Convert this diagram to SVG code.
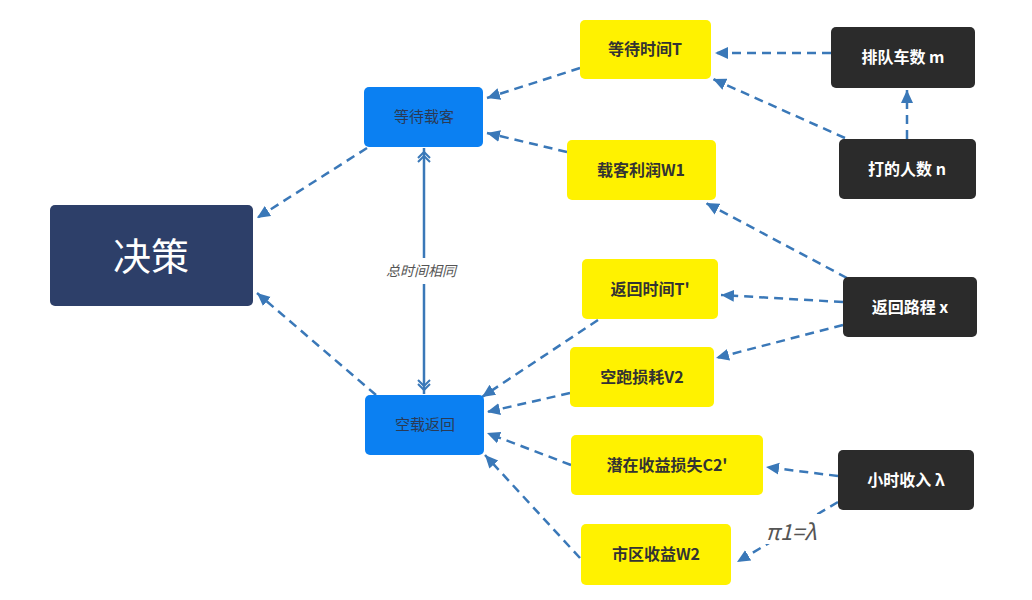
<svg xmlns="http://www.w3.org/2000/svg" width="1032" height="600" viewBox="0 0 1032 600">
<style>
.dash{fill:none;stroke:#3a78b8;stroke-width:2.5;stroke-dasharray:9 6;marker-end:url(#ah)}
.solid{fill:none;stroke:#3a78b8;stroke-width:2.5}
.y rect{fill:#fff200}
.y text{fill:#333;font-family:"Noto Sans CJK SC","Liberation Sans",sans-serif;font-size:16px;font-weight:bold;text-anchor:middle}
.b rect{fill:#0b80f2}
.b text{fill:#2a3a55;font-family:"Noto Sans CJK SC","Liberation Sans",sans-serif;font-size:15px;text-anchor:middle}
.k rect{fill:#2b2b2b}
.k text{fill:#fff;font-family:"Noto Sans CJK SC","Liberation Sans",sans-serif;font-size:16px;font-weight:bold;text-anchor:middle}
.lbl{fill:#555;font-family:"Noto Sans CJK SC","Liberation Sans",sans-serif;font-style:italic;text-anchor:middle}
</style>
<defs>
<marker id="ah" markerUnits="userSpaceOnUse" markerWidth="14" markerHeight="14" viewBox="0 0 14 14" refX="13" refY="7" orient="auto">
<path d="M0,1 L13,7 L0,13 Z" fill="#3a78b8"/>
</marker>
<marker id="dc" markerUnits="userSpaceOnUse" markerWidth="16" markerHeight="16" viewBox="0 0 16 16" refX="15" refY="8" orient="auto">
<path d="M5,2 L11,8 L5,14 M1,2 L7,8 L1,14" fill="none" stroke="#3a78b8" stroke-width="2"/>
</marker>
</defs>
<rect width="1032" height="600" fill="#fff"/>
<g id="connectors">
<line class="dash" x1="367" y1="148" x2="257" y2="218"/>
<line class="dash" x1="376" y1="395" x2="257" y2="293"/>
<line class="dash" x1="580" y1="68" x2="487" y2="98"/>
<line class="dash" x1="567" y1="152" x2="487" y2="133"/>
<line class="dash" x1="598" y1="320" x2="482" y2="397"/>
<line class="dash" x1="570" y1="393" x2="487" y2="412"/>
<line class="dash" x1="571" y1="465" x2="487" y2="433"/>
<line class="dash" x1="580" y1="558" x2="485" y2="455"/>
<line class="dash" x1="831" y1="53" x2="715" y2="53"/>
<line class="dash" x1="845" y1="138" x2="713" y2="79"/>
<line class="dash" x1="907" y1="139" x2="907" y2="90"/>
<line class="dash" x1="847" y1="278" x2="706" y2="203"/>
<line class="dash" x1="843" y1="302" x2="721" y2="295"/>
<line class="dash" x1="843" y1="325" x2="716" y2="358"/>
<line class="dash" x1="838" y1="476" x2="766" y2="467"/>
<line class="dash" x1="838" y1="502" x2="737" y2="562"/>
<path class="solid" d="M424,258 L424,148" marker-end="url(#dc)"/>
<path class="solid" d="M424,284 L424,394" marker-end="url(#dc)"/>
<text class="lbl" x="421" y="276" font-size="14">总时间相同</text>
<rect x="760" y="514" width="62" height="30" fill="#fff"/>
<text class="lbl" x="791" y="540" font-size="22" fill="#666">π1=λ</text>
</g>
<g id="n_juece"><rect x="50" y="205" width="203" height="101" rx="5" fill="#2d3f69"/><text x="151" y="270" fill="#fff" font-family="Noto Sans CJK SC,Liberation Sans,sans-serif" font-size="38" text-anchor="middle">决策</text></g>
<g id="n_dengdaizaike" class="b"><rect x="364" y="87" width="119" height="60" rx="5"/><text x="424" y="122">等待载客</text></g>
<g id="n_kongzaifanhui" class="b"><rect x="365" y="395" width="119" height="60" rx="5"/><text x="425" y="430">空载返回</text></g>
<g id="n_T" class="y"><rect x="580" y="20" width="131" height="59" rx="5"/><text x="645" y="55">等待时间T</text></g>
<g id="n_W1" class="y"><rect x="567" y="140" width="149" height="60" rx="5"/><text x="641" y="176">载客利润W1</text></g>
<g id="n_T2" class="y"><rect x="582" y="259" width="136" height="60" rx="5"/><text x="650" y="295">返回时间T'</text></g>
<g id="n_V2" class="y"><rect x="570" y="347" width="144" height="60" rx="5"/><text x="642" y="383">空跑损耗V2</text></g>
<g id="n_C2" class="y"><rect x="571" y="435" width="192" height="60" rx="5"/><text x="667" y="471">潜在收益损失C2'</text></g>
<g id="n_W2" class="y"><rect x="581" y="524" width="150" height="61" rx="5"/><text x="656" y="560">市区收益W2</text></g>
<g id="n_m" class="k"><rect x="831" y="27" width="144" height="61" rx="5"/><text x="903" y="63">排队车数 m</text></g>
<g id="n_n" class="k"><rect x="839" y="139" width="137" height="60" rx="5"/><text x="907" y="175">打的人数 n</text></g>
<g id="n_x" class="k"><rect x="843" y="277" width="134" height="60" rx="5"/><text x="910" y="313">返回路程 x</text></g>
<g id="n_lambda" class="k"><rect x="838" y="450" width="136" height="60" rx="5"/><text x="906" y="486">小时收入 λ</text></g>
</svg>
